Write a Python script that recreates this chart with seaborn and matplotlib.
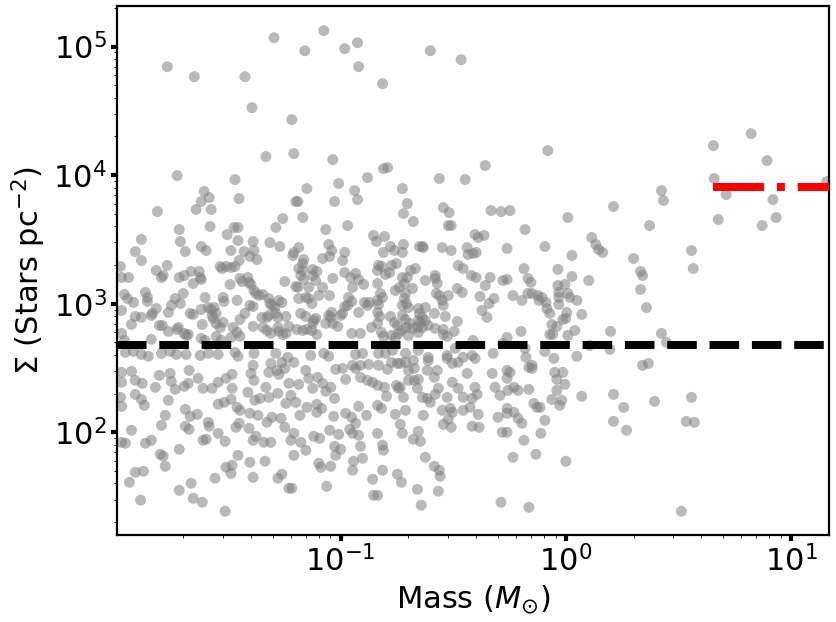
import numpy as np
import pandas as pd
import matplotlib
matplotlib.use("Agg")
import matplotlib.pyplot as plt
import seaborn as sns

# ---- data: (log10 mass [Msun], log10 surface density [stars pc^-2]) ----
PTS_TOP_LEFT = [(-1.770,4.844),(-1.650,4.766),(-1.425,4.766),(-1.394,4.525),(-1.296,5.069),(-1.159,4.968),(-1.075,5.124),(-0.982,4.984),(-0.925,5.030),(-0.920,4.844),
 (-0.814,4.712),(-1.217,4.432),(-1.332,4.145),(-1.208,4.168),(-1.035,4.121),(-1.726,3.997),(-0.810,4.051),(-0.792,4.059),(-0.881,3.981),(-1.469,3.966),
 (-1.814,3.717),(-1.606,3.873),(-1.584,3.826),(-1.619,3.795),(-1.642,3.733),(-1.575,3.733),(-1.451,3.818),(-1.580,3.601),(-1.717,3.577),(-1.712,3.484),
 (-1.690,3.406),(-1.885,3.500),(-1.912,3.406),(-1.885,3.336),(-1.150,3.896),(-1.199,3.795),(-1.190,3.795),(-1.257,3.663),(-1.168,3.671),(-1.288,3.593),
 (-1.066,3.577),(-0.969,3.608),(-1.027,3.795),(-1.009,3.935),(-0.938,3.880),(-0.925,3.810),(-0.726,3.896),(-0.704,3.779),(-0.721,3.702),(-0.677,3.639),
 (-1.504,3.538),(-1.456,3.492),(-1.473,3.593),(-1.456,3.593),(-1.389,3.484),(-1.314,3.476),(-1.270,3.445),(-1.487,3.414),(-1.429,3.406),(-1.385,3.414),
 (-1.619,3.445),(-1.597,3.414),(-1.403,3.368),(-1.372,3.344),(-1.451,3.336),(-1.208,3.399),(-1.186,3.437),(-1.212,3.375),(-1.164,3.344),(-1.053,3.461),
 (-1.040,3.414),(-1.049,3.368),(-1.080,3.352),(-0.982,3.399),(-0.991,3.336),(-0.854,3.531),(-0.841,3.484),(-0.805,3.523),(-0.779,3.445),(-0.810,3.399),
 (-0.761,3.414),(-0.721,3.461),(-0.726,3.399),(-0.650,3.445)]

PTS_LEFT_MID = [(-1.770,3.298),(-1.819,3.259),(-1.796,3.204),(-1.788,3.220),(-1.978,3.290),(-1.973,3.204),(-1.942,3.204),(-1.717,3.204),(-1.695,3.220),(-1.664,3.251),
 (-1.628,3.251),(-1.624,3.204),(-1.619,3.189),(-1.655,3.158),(-1.960,3.072),(-1.947,3.041),(-1.920,3.010),(-1.867,3.088),(-1.858,3.049),(-1.858,3.018),
 (-1.973,2.948),(-1.819,2.963),(-1.765,2.932),(-1.752,2.987),(-1.735,3.041),(-1.712,3.002),(-1.699,3.080),(-1.912,2.901),(-1.885,2.894),(-1.841,2.909),
 (-1.836,2.925),(-1.929,2.839),(-1.973,2.769),(-1.805,2.831),(-1.792,2.831),(-1.765,2.785),(-1.726,2.800),(-1.695,2.769),(-1.677,2.761),(-1.668,2.925),
 (-1.655,2.917),(-1.615,2.839),(-1.619,2.956),(-1.588,2.971),(-1.575,2.956),(-1.562,2.971),(-1.602,3.049),(-1.571,2.909),(-1.553,2.925),(-1.535,3.290),
 (-1.527,3.274),(-1.509,3.290),(-1.487,3.282),(-1.469,3.290),(-1.491,3.150),(-1.522,3.049),(-1.518,3.018),(-1.460,3.026),(-1.447,3.197),(-1.438,3.173),
 (-1.566,2.886),(-1.553,2.847),(-1.522,2.855),(-1.535,2.816),(-1.478,2.816),(-1.460,2.777),(-1.447,2.746),(-1.602,2.715),(-1.619,2.730),(-1.553,2.746),
 (-1.531,2.715),(-1.487,2.738),(-1.447,2.878),(-1.425,2.925),(-1.841,2.723),(-1.721,2.816),(-1.686,2.754),(-1.960,2.715),(-1.956,2.622),(-1.920,2.629),
 (-1.885,2.606),(-1.854,2.591),(-1.796,2.614),(-1.757,2.629),(-1.730,2.606),(-1.686,2.606),(-1.624,2.598),(-1.588,2.614),(-1.544,2.606),(-1.469,2.622),
 (-1.456,2.591)]

PTS_LEFT_LOW = [(-1.973,2.466),(-1.929,2.474),(-1.973,2.389),(-1.912,2.404),(-1.881,2.381),(-1.978,2.272),(-1.973,2.202),(-1.912,2.295),(-1.885,2.256),(-1.872,2.210),
 (-1.823,2.350),(-1.805,2.443),(-1.757,2.458),(-1.752,2.396),(-1.735,2.334),(-1.695,2.357),(-1.677,2.381),(-1.673,2.482),(-1.633,2.420),(-1.611,2.342),
 (-1.571,2.342),(-1.544,2.389),(-1.509,2.420),(-1.482,2.451),(-1.482,2.342),(-1.765,2.249),(-1.690,2.179),(-1.668,2.124),(-1.637,2.140),(-1.779,2.132),
 (-1.796,2.054),(-1.690,2.047),(-1.673,2.023),(-1.588,2.078),(-1.584,2.047),(-1.544,2.218),(-1.518,2.233),(-1.487,2.256),(-1.460,2.194),(-1.447,2.171),
 (-1.465,2.039),(-1.451,2.070),(-1.544,1.992),(-1.513,1.930),(-1.611,1.938),(-1.597,1.946),(-1.929,2.016),(-1.973,1.922),(-1.956,1.915),(-1.867,1.915),
 (-1.841,1.938),(-1.717,1.868),(-1.801,1.829),(-1.788,1.814),(-1.779,1.736),(-1.912,1.689),(-1.876,1.697),(-1.938,1.611),(-1.717,1.549),(-1.664,1.604),
 (-1.655,1.487),(-1.615,1.456),(-1.889,1.472),(-1.558,1.643),(-1.509,1.728),(-1.482,1.744),(-1.487,1.681),(-1.456,1.821),(-1.513,1.386)]

PTS_CENTRE_MID = [(-1.412,3.204),(-1.398,3.150),(-1.385,3.103),(-1.376,3.080),(-1.363,3.064),(-1.345,3.072),(-1.407,3.166),(-1.403,2.987),(-1.389,2.979),(-1.319,3.041),
 (-1.305,2.987),(-1.314,3.002),(-1.292,2.971),(-1.274,3.026),(-1.261,3.010),(-1.288,2.925),(-1.279,2.894),(-1.350,2.894),(-1.327,2.894),(-1.319,2.909),
 (-1.243,2.901),(-1.389,2.824),(-1.345,2.816),(-1.327,2.792),(-1.310,2.769),(-1.279,2.816),(-1.274,2.785),(-1.257,2.761),(-1.243,2.769),(-1.230,2.824),
 (-1.248,3.173),(-1.199,3.134),(-1.190,3.127),(-1.186,3.041),(-1.155,3.049),(-1.142,3.127),(-1.142,3.041),(-1.128,3.002),(-1.111,3.181),(-1.124,3.220),
 (-1.097,3.064),(-1.080,3.127),(-1.049,3.064),(-1.186,3.274),(-1.168,3.259),(-1.177,3.220),(-1.164,3.189),(-1.168,3.313),(-1.124,3.267),(-1.106,3.251),
 (-1.035,3.197),(-1.177,2.925),(-1.155,2.901),(-1.119,2.870),(-1.111,2.886),(-1.195,2.800),(-1.168,2.792),(-1.150,2.800),(-1.128,2.792),(-1.124,2.847),
 (-1.106,2.761),(-1.066,2.847),(-1.053,2.909),(-1.044,2.894),(-1.035,2.847),(-1.040,2.932),(-1.013,2.824),(-1.000,2.909),(-0.991,2.925),(-0.982,2.979),
 (-0.965,3.049),(-0.982,3.243),(-0.956,3.204),(-0.934,3.236),(-0.920,3.189),(-0.898,3.150),(-0.947,3.127),(-0.951,3.018),(-0.969,2.987),(-0.920,2.932),
 (-0.894,3.010),(-0.872,3.010),(-0.881,2.987),(-0.951,2.769),(-0.912,2.769),(-0.863,2.816),(-1.385,2.614),(-1.288,2.614),(-1.235,2.583),(-1.133,2.598),
 (-1.075,2.614),(-1.053,2.591),(-0.934,2.606),(-0.903,2.614)]

PTS_CENTRE_LOW = [(-1.389,2.521),(-1.398,2.458),(-1.385,2.404),(-1.310,2.536),(-1.319,2.466),(-1.283,2.482),(-1.274,2.451),(-1.248,2.497),(-1.261,2.544),(-1.208,2.544),
 (-1.412,2.311),(-1.381,2.249),(-1.358,2.264),(-1.332,2.350),(-1.319,2.272),(-1.279,2.303),(-1.243,2.225),(-1.221,2.287),(-1.199,2.233),(-1.230,2.381),
 (-1.186,2.373),(-1.155,2.482),(-1.142,2.420),(-1.124,2.342),(-1.102,2.427),(-1.080,2.381),(-1.066,2.319),(-1.044,2.350),(-1.027,2.264),(-1.022,2.490),
 (-0.991,2.497),(-0.978,2.412),(-0.947,2.521),(-0.934,2.497),(-0.912,2.521),(-0.912,2.427),(-0.881,2.404),(-0.858,2.389),(-0.876,2.528),(-1.403,2.148),
 (-1.367,2.132),(-1.327,2.078),(-1.305,2.117),(-1.265,2.109),(-1.248,2.039),(-1.407,2.031),(-1.376,1.969),(-1.389,1.938),(-1.341,1.922),(-1.310,1.922),
 (-1.208,1.992),(-1.221,1.938),(-1.177,1.922),(-1.155,1.860),(-1.208,1.821),(-1.181,2.132),(-1.150,2.194),(-1.106,2.218),(-1.106,2.155),(-1.084,2.186),
 (-1.119,1.969),(-1.093,1.953),(-1.031,2.124),(-1.049,2.016),(-1.009,1.984),(-1.027,1.891),(-1.000,1.868),(-1.022,1.821),(-1.097,1.759),(-1.088,1.728),
 (-1.044,1.736),(-0.978,2.148),(-0.951,2.117),(-0.934,2.070),(-0.960,2.023),(-0.947,1.992),(-0.920,2.202),(-0.885,2.132),(-0.920,1.977),(-0.912,1.891),
 (-0.943,1.775),(-0.903,1.798),(-0.947,1.705),(-1.403,1.767),(-1.336,1.775),(-1.389,1.650),(-1.279,1.643),(-1.261,1.674),(-1.230,1.565),(-1.217,1.565),
 (-1.062,1.580),(-0.858,1.635),(-0.854,1.510)]

PTS_TOP_RIGHT = [(-0.602,4.968),(-0.465,4.898),(-0.080,4.191),(-0.358,4.075),(-0.562,3.974),(-0.447,3.966),(-0.544,3.748),(-0.518,3.709),(-0.522,3.608),(-0.509,3.608),
 (-0.332,3.725),(-0.288,3.717),(-0.248,3.725),(-0.181,3.577),(0.009,3.671),(0.212,3.756),(0.425,3.880),(0.434,3.803),(0.372,3.608),(0.655,4.230),
 (0.659,3.974),(0.712,3.849),(0.677,3.655),(0.823,4.323),(0.894,4.113),(0.920,3.810),(0.872,3.608),(0.934,3.671),(1.159,3.950),(-0.637,3.445),
 (-0.633,3.437),(-0.549,3.437),(-0.509,3.414),(-0.403,3.538),(-0.389,3.515),(-0.363,3.531),(-0.438,3.437),(-0.434,3.383),(-0.412,3.391),(-0.398,3.399),
 (-0.478,3.298),(-0.456,3.274),(-0.261,3.430),(-0.186,3.274),(-0.093,3.445),(-0.035,3.267),(0.027,3.375),(0.115,3.515),(0.133,3.461),(0.146,3.422),
 (0.164,3.399),(0.301,3.352),(0.332,3.251),(0.341,3.220),(0.558,3.414),(0.566,3.274),(-0.668,3.274),(-0.580,3.220),(-0.420,3.220),(-0.336,3.204),
 (-0.261,3.189),(-0.168,3.197),(0.027,3.212),(0.102,3.181),(-0.398,3.204)]

PTS_MID_MID = [(-0.832,3.298),(-0.836,3.259),(-0.819,3.290),(-0.774,3.298),(-0.752,3.313),(-0.783,3.243),(-0.801,3.228),(-0.836,3.158),(-0.823,3.080),(-0.814,3.049),
 (-0.836,3.026),(-0.832,2.995),(-0.836,2.932),(-0.827,2.901),(-0.836,2.847),(-0.819,2.777),(-0.779,2.901),(-0.761,2.855),(-0.748,2.831),(-0.757,3.103),
 (-0.739,3.127),(-0.726,3.204),(-0.717,3.158),(-0.704,3.204),(-0.712,3.080),(-0.690,3.259),(-0.681,3.119),(-0.717,3.041),(-0.708,3.002),(-0.726,2.987),
 (-0.699,2.971),(-0.726,2.909),(-0.712,2.878),(-0.695,2.847),(-0.708,2.816),(-0.730,2.792),(-0.743,2.769),(-0.699,2.754),(-0.681,2.808),(-0.810,2.746),
 (-0.774,2.754),(-0.757,2.738),(-0.655,2.963),(-0.650,2.925),(-0.655,2.870),(-0.659,2.816),(-0.624,3.181),(-0.580,3.197),(-0.571,3.158),(-0.575,3.080),
 (-0.562,3.064),(-0.549,3.026),(-0.544,2.987),(-0.624,2.971),(-0.637,2.894),(-0.646,2.855),(-0.637,2.816),(-0.655,2.777),(-0.584,2.925),(-0.535,2.901),
 (-0.522,3.064),(-0.482,3.119),(-0.460,3.088),(-0.624,2.870),(-0.611,2.831),(-0.580,2.808),(-0.544,2.800),(-0.544,2.761),(-0.527,2.746),(-0.496,2.785),
 (-0.482,2.862),(-0.358,3.142),(-0.381,3.057),(-0.341,3.002),(-0.319,3.041),(-0.372,2.948),(-0.350,2.894),(-0.279,3.181),(-0.412,2.715),(-0.323,2.614),
 (-0.279,2.692),(-0.832,2.614),(-0.801,2.614),(-0.770,2.637),(-0.712,2.614),(-0.655,2.637),(-0.611,2.583),(-0.527,2.598),(-0.491,2.653),(-0.456,2.583),
 (-0.416,2.598)]

PTS_MID_LOW = [(-0.832,2.521),(-0.792,2.490),(-0.774,2.544),(-0.748,2.536),(-0.735,2.536),(-0.712,2.544),(-0.699,2.482),(-0.673,2.497),(-0.677,2.559),(-0.615,2.482),
 (-0.584,2.427),(-0.571,2.482),(-0.611,2.559),(-0.527,2.575),(-0.504,2.536),(-0.478,2.544),(-0.438,2.458),(-0.403,2.575),(-0.836,2.365),(-0.805,2.350),
 (-0.836,2.210),(-0.819,2.186),(-0.796,2.280),(-0.752,2.365),(-0.735,2.350),(-0.743,2.342),(-0.699,2.404),(-0.673,2.404),(-0.655,2.412),(-0.659,2.342),
 (-0.721,2.272),(-0.637,2.272),(-0.615,2.264),(-0.602,2.233),(-0.580,2.295),(-0.566,2.342),(-0.527,2.272),(-0.504,2.389),(-0.478,2.342),(-0.456,2.272),
 (-0.416,2.264),(-0.394,2.295),(-0.403,2.350),(-0.327,2.458),(-0.314,2.350),(-0.292,2.287),(-0.301,2.117),(-0.283,2.000),(-0.288,1.456),(-0.757,2.140),
 (-0.712,2.171),(-0.735,2.062),(-0.726,1.992),(-0.633,2.132),(-0.549,2.171),(-0.513,2.186),(-0.504,2.155),(-0.522,2.101),(-0.544,2.062),(-0.509,2.039),
 (-0.456,2.171),(-0.425,2.194),(-0.389,2.140),(-0.416,2.047),(-0.385,2.039),(-0.677,1.946),(-0.646,1.930),(-0.655,2.008),(-0.836,1.992),(-0.814,1.899),
 (-0.810,1.860),(-0.624,1.806),(-0.584,1.736),(-0.562,1.705),(-0.558,1.658),(-0.814,1.705),(-0.748,1.674),(-0.730,1.611),(-0.836,1.510),(-0.659,1.557),
 (-0.642,1.433),(-0.566,1.542)]

PTS_ONE_MSUN = [(-0.235,3.064),(-0.195,3.026),(-0.168,3.080),(-0.150,3.080),(-0.124,3.064),(-0.119,3.026),(-0.106,3.049),(-0.155,3.166),(-0.088,3.010),(-0.084,2.963),
 (-0.071,2.925),(-0.035,3.142),(-0.031,3.088),(-0.031,3.049),(-0.004,3.150),(0.009,3.080),(0.018,3.049),(0.049,3.026),(-0.031,2.995),(0.004,2.932),
 (-0.013,2.878),(0.000,2.886),(-0.062,2.839),(-0.040,2.824),(-0.071,2.761),(-0.058,2.761),(0.009,2.754),(0.040,2.792),(0.071,2.917),(-0.199,2.785),
 (-0.261,2.738),(0.199,2.785),(-0.181,2.653),(-0.093,2.629),(0.106,2.676),(0.195,2.645),(0.049,2.591),(-0.053,2.575),(-0.177,2.583),(-0.164,2.505),
 (-0.150,2.497),(-0.150,2.521),(-0.049,2.466),(-0.013,2.466),(-0.040,2.412),(-0.004,2.373),(-0.040,2.326),(-0.062,2.256),(-0.018,2.249),(-0.027,2.210),
 (0.071,2.280),(-0.261,2.482),(-0.248,2.466),(-0.261,2.420),(-0.257,2.326),(-0.230,2.350),(-0.212,2.326),(-0.164,2.334),(-0.261,2.186),(-0.261,2.148),
 (-0.230,2.155),(-0.212,2.109),(-0.195,2.070),(-0.142,2.225),(-0.128,2.194),(-0.115,2.194),(-0.093,2.093),(-0.111,1.992),(-0.186,1.938),(-0.261,2.000),
 (-0.235,1.806),(-0.133,1.829),(0.000,1.775),(-0.164,1.417),(0.212,2.295),(0.257,2.194),(0.212,2.085),(0.270,2.016)]

PTS_HIGH_MASS = [(0.332,3.111),(0.358,2.970),(0.425,2.769),(0.447,2.699),(0.341,2.521),(0.367,2.536),(0.394,2.241),(0.558,2.272),(0.535,2.085),(0.571,2.078),
 (0.513,1.386)]

GROUPS = [PTS_TOP_LEFT, PTS_LEFT_MID, PTS_LEFT_LOW, PTS_CENTRE_MID, PTS_CENTRE_LOW,
          PTS_TOP_RIGHT, PTS_MID_MID, PTS_MID_LOW, PTS_ONE_MSUN, PTS_HIGH_MASS]

# reference lines
BLACK_LEVEL = 476.0          # stars pc^-2
RED_LEVEL = 8100.0           # stars pc^-2
RED_MASS_RANGE = [4.5, 16.0] # Msun

XLIM = (0.01016, 14.75)
YLIM = (15.9, 2.08e5)

pts = np.array([p for g in GROUPS for p in g])
df = pd.DataFrame({"mass": 10 ** pts[:, 0], "sigma": 10 ** pts[:, 1]})

sns.set_style("ticks")
plt.rcParams["font.family"] = ["DejaVu Sans"]
plt.rcParams["mathtext.fontset"] = "dejavusans"
for key in ["text.color", "axes.labelcolor", "xtick.color", "ytick.color",
            "xtick.labelcolor", "ytick.labelcolor", "axes.edgecolor"]:
    plt.rcParams[key] = "black"

fig = plt.figure(figsize=(8.36, 6.22), dpi=100)
ax = fig.add_axes([0.140, 0.1399, 0.8516, 0.8509])

sns.scatterplot(data=df, x="mass", y="sigma", color="gray", alpha=0.55, s=62,
                edgecolor="none", linewidth=0, ax=ax, zorder=2)

ax.axhline(BLACK_LEVEL, color="black", linestyle="--", linewidth=5.75, zorder=3)
sns.lineplot(x=RED_MASS_RANGE, y=[RED_LEVEL, RED_LEVEL], color="red", linestyle="-.",
             linewidth=5.75, ax=ax, zorder=3)

ax.set_xscale("log")
ax.set_yscale("log")
ax.set_xlim(*XLIM)
ax.set_ylim(*YLIM)

ax.set_xlabel(r"Mass ($M_{\odot}$)", fontsize=22, color="black")
ax.set_ylabel(r"$\Sigma$ (Stars pc$^{-2}$)", fontsize=22, color="black")
ax.tick_params(which="major", direction="out", length=4, width=3, labelsize=22,
               color="black", labelcolor="black")
ax.tick_params(which="minor", direction="out", length=2, width=0.6, color="black")
for sp in ax.spines.values():
    sp.set_linewidth(1.6)
    sp.set_color("black")
    sp.set_visible(True)

fig.savefig("out.png", dpi=100)
